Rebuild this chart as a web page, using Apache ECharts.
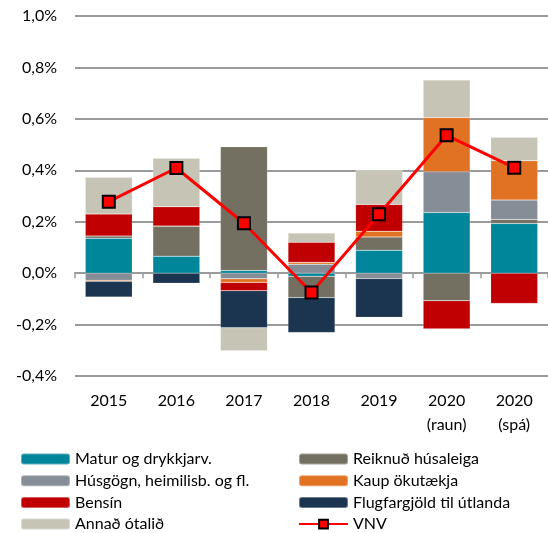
<!DOCTYPE html>
<html>
<head>
<meta charset="utf-8">
<script src="https://cdn.jsdelivr.net/npm/echarts@6/dist/echarts.min.js"></script>
<style>
  html, body { margin: 0; padding: 0; background: #fff; }
  #chart { width: 548px; height: 533px; }
</style>
</head>
<body>
<div id="chart"></div>
<script>
// ár (flokkar)
const years = ['2015', '2016', '2017', '2018', '2019', '2020\n(raun)', '2020\n(spá)']
// framlag til verðbólgu, %
const matur = [0.136, 0.066, 0.010, -0.012, 0.089, 0.236, 0.193]
const reiknud = [0.008, 0.117, 0.482, -0.083, 0.052, -0.107, 0.016]
const husgogn = [-0.028, 0, -0.022, 0.035, -0.021, 0.158, 0.075]
const kaup = [-0.004, 0, -0.014, 0.007, 0.022, 0.211, 0.153]
const bensin = [0.086, 0.075, -0.032, 0.078, 0.104, -0.110, -0.118]
const flug = [-0.061, -0.039, -0.144, -0.136, -0.151, 0, 0]
const annad = [0.143, 0.189, -0.090, 0.036, 0.135, 0.146, 0.091]
const vnv = [0.278, 0.409, 0.194, -0.075, 0.229, 0.536, 0.410]
const yTicks = [-0.4, -0.2, 0, 0.2, 0.4, 0.6, 0.8, 1.0]

const font = 'Lato, "Open Sans", sans-serif'

const chart = echarts.init(document.getElementById('chart'))

function bar(name, data, color) {
  return {
    name: name,
    type: 'bar',
    stack: 'total',
    barWidth: 47,
    data: data,
    itemStyle: { color: color, borderColor: 'rgba(255,255,255,0.35)', borderWidth: 0.5 }
  }
}

const legendBase = {
  orient: 'vertical',
  padding: 0,
  top: 451,
  height: 100,
  itemWidth: 49,
  itemHeight: 11,
  itemGap: 5.7,
  textStyle: { fontFamily: font, fontSize: 16, color: '#000' }
}

chart.setOption({
  animation: false,
  grid: { left: 75, right: 0, top: 16, bottom: 157 },
  legend: [
    Object.assign({}, legendBase, {
      left: 20,
      data: ['Matur og drykkjarv.', 'Húsgögn, heimilisb. og fl.', 'Bensín', 'Annað ótalið']
    }),
    Object.assign({}, legendBase, {
      left: 298,
      data: ['Reiknuð húsaleiga', 'Kaup ökutækja', 'Flugfargjöld til útlanda', 'VNV']
    })
  ],
  xAxis: [
    {
      // merkingar neðst
      type: 'category',
      data: years,
      position: 'bottom',
      axisLine: { show: false, onZero: false },
      axisTick: { show: false },
      axisLabel: { fontFamily: font, fontSize: 16, color: '#000', margin: 13, lineHeight: 24 }
    },
    {
      // ás við núll
      type: 'category',
      data: years,
      position: 'top',
      axisLine: { onZero: true, lineStyle: { color: '#9a9a9a', width: 2 } },
      axisTick: { show: true, inside: true, length: 5, lineStyle: { color: '#9a9a9a', width: 1.5 } },
      axisLabel: { show: false }
    }
  ],
  yAxis: {
    type: 'value',
    min: yTicks[0],
    max: yTicks[yTicks.length - 1],
    interval: 0.2,
    axisLine: { show: false },
    axisTick: { show: false },
    splitLine: { lineStyle: { color: '#9a9a9a', width: 2 } },
    axisLabel: {
      fontFamily: font, fontSize: 16, color: '#000', margin: 18,
      formatter: v => v.toFixed(1).replace('.', ',') + '%'
    }
  },
  series: [
    bar('Matur og drykkjarv.', matur, '#00869A'),
    bar('Reiknuð húsaleiga', reiknud, '#737062'),
    bar('Húsgögn, heimilisb. og fl.', husgogn, '#878D97'),
    bar('Kaup ökutækja', kaup, '#E17224'),
    bar('Bensín', bensin, '#C00000'),
    bar('Flugfargjöld til útlanda', flug, '#1B3550'),
    bar('Annað ótalið', annad, '#C6C4B5'),
    {
      name: 'VNV',
      type: 'line',
      data: vnv,
      z: 5,
      symbol: 'rect',
      symbolSize: 12,
      lineStyle: { color: '#FF0000', width: 3 },
      itemStyle: { color: '#FF0000', borderColor: '#000', borderWidth: 2 }
    }
  ]
})
</script>
</body>
</html>
